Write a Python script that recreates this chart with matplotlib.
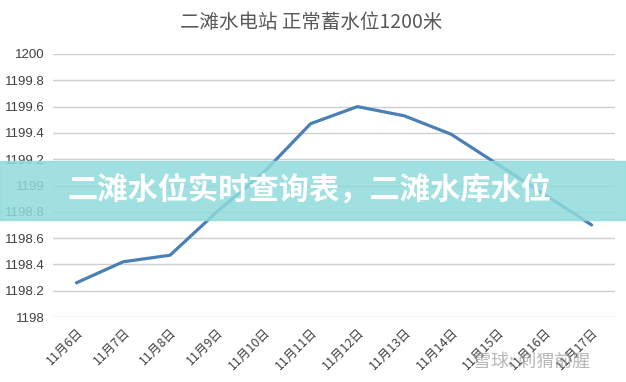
import matplotlib.pyplot as plt
from matplotlib.patches import Rectangle

plt.rcParams['font.family'] = ['Noto Sans CJK SC', 'DejaVu Sans']

# data
dates = ['11月6日', '11月7日', '11月8日', '11月9日', '11月10日', '11月11日',
         '11月12日', '11月13日', '11月14日', '11月15日', '11月16日', '11月17日']
level = [1198.26, 1198.42, 1198.47, 1198.80, 1199.10, 1199.47,
         1199.60, 1199.53, 1199.39, 1199.16, 1198.93, 1198.70]
yticks = [1198, 1198.2, 1198.4, 1198.6, 1198.8, 1199,
          1199.2, 1199.4, 1199.6, 1199.8, 1200]
ylabels = ['1198', '1198.2', '1198.4', '1198.6', '1198.8', '1199',
           '1199.2', '1199.4', '1199.6', '1199.8', '1200']

W, H = 626, 382
fig = plt.figure(figsize=(W / 100, H / 100), dpi=100)
ax = fig.add_axes([53 / W, 1 - 317 / H, (615 - 53) / W, (317 - 54) / H])

x = list(range(len(dates)))
ax.plot(x, level, color='#4b80b5', lw=2.3, solid_capstyle='round', zorder=3)

ax.set_xlim(-0.5, len(dates) - 0.5)
ax.set_ylim(1198, 1200)
ax.set_yticks(yticks)
ax.set_yticklabels(ylabels, family=['Liberation Sans', 'DejaVu Sans'], fontsize=9.5, color='#404040')
ax.set_xticks(x)
ax.set_xticklabels(dates, rotation=45, ha='right', rotation_mode='anchor',
                   fontsize=9, color='#404040')
ax.tick_params(length=0, pad=6)
ax.grid(axis='y', color='#d0d0d0', lw=1)
ax.set_axisbelow(True)
for s in ax.spines.values():
    s.set_visible(False)

fig.text(311 / W, 1 - 22 / H, '二滩水电站 正常蓄水位1200米', ha='center', va='center',
         fontsize=14, color='#595959')

# banner across the middle
fig.patches.append(Rectangle((0, 1 - 220 / H), 1, 59 / H, transform=fig.transFigure,
                             color='#8fdbdb', alpha=0.85, zorder=5))
fig.text(309 / W, 1 - 190 / H, '二滩水位实时查询表，二滩水库水位', ha='center', va='center',
         fontsize=21.8, fontweight='bold', color='white', zorder=6)

# watermark
fig.text(532 / W, 1 - 362 / H, '雪球: 刺猬前腥', ha='center', va='center',
         fontsize=13, color='#9a9a9a', alpha=0.7, zorder=6)

fig.savefig('out.png', dpi=100)
